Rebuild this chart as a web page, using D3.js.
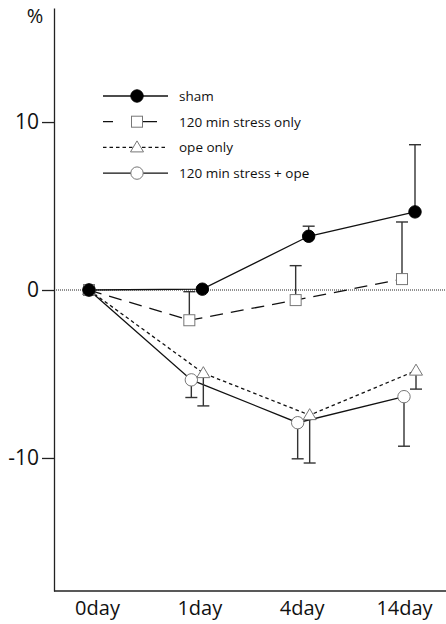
<!DOCTYPE html>
<html>
<head>
<meta charset="utf-8">
<script src="https://cdn.jsdelivr.net/npm/d3@7"></script>
<style>
  body { margin: 0; background: #fff; }
  svg { display: block; font-family: "Open Sans", sans-serif; }
</style>
</head>
<body>
<svg id="chart" width="446" height="624"></svg>
<script>
// Data
const days = ['0day', '1day', '4day', '14day'];

const shamMean = [0, 0.05, 3.2, 4.65];
const shamErr = [0, 0, 0.6, 4.0];

const stressMean = [0, -1.8, -0.6, 0.65];
const stressErr = [0, 1.7, 2.05, 3.4];

const opeMean = [0, -4.95, -7.45, -4.8];
const opeErr = [0, 1.95, 2.85, 1.1];

const bothMean = [0, -5.35, -7.9, -6.35];
const bothErr = [0, 1.05, 2.15, 2.95];

const yTicks = [-10, 0, 10];

// series config (dodge = small horizontal shift so marks don't overlap)
const series = [
    { name: '120 min stress + ope', mean: bothMean, err: bothErr, dir: -1, marker: 'circle', fill: '#fff', dash: null, dodge: -4 },
    { name: 'ope only', mean: opeMean, err: opeErr, dir: -1, marker: 'triangle', fill: '#fff', dash: '3.5,3', dodge: 8 },
    { name: '120 min stress only', mean: stressMean, err: stressErr, dir: 1, marker: 'square', fill: '#fff', dash: '13,8', dodge: -6 },
    { name: 'sham', mean: shamMean, err: shamErr, dir: 1, marker: 'circle', fill: '#000', dash: null, dodge: 7 }
];
const legendOrder = ['sham', '120 min stress only', 'ope only', '120 min stress + ope'];

const svg = d3.select('#chart');

const x = d3.scalePoint().domain(days).range([89, 408]);
const xLabel = d3.scalePoint().domain(days).range([97, 404]);
const y = d3.scaleLinear().domain([-17.92, 16.79]).range([591, 8]);

const px = (s, i) => x(days[i]) + (i === 0 ? 0 : s.dodge);

// zero reference line
svg.append('line')
    .attr('x1', 54).attr('x2', 446)
    .attr('y1', y(0)).attr('y2', y(0))
    .attr('stroke', '#222').attr('stroke-width', 1)
    .attr('stroke-dasharray', '1,1');

// y axis
const yAxis = svg.append('g')
    .attr('transform', 'translate(54,0)')
    .call(d3.axisLeft(y).tickValues(yTicks).tickFormat(d => String(d))
        .tickSize(12).tickSizeOuter(0).tickPadding(3));
yAxis.select('.domain').attr('stroke', '#222').attr('stroke-width', 1.3);
yAxis.selectAll('.tick line').attr('stroke', '#222').attr('stroke-width', 1.3);
yAxis.selectAll('.tick text').attr('font-size', 21).attr('fill', '#111')
    .attr('font-family', '"Open Sans", sans-serif');

svg.append('text')
    .attr('x', 35).attr('y', 23)
    .attr('text-anchor', 'middle')
    .attr('font-size', 20).attr('fill', '#111')
    .text('%');

// x axis
svg.append('line')
    .attr('x1', 54).attr('x2', 446)
    .attr('y1', 591).attr('y2', 591)
    .attr('stroke', '#222').attr('stroke-width', 1.3);
const xAxis = svg.append('g')
    .attr('transform', 'translate(0,591)')
    .call(d3.axisBottom(xLabel).tickSize(0).tickPadding(10));
xAxis.select('.domain').remove();
xAxis.selectAll('.tick text').attr('font-size', 20).attr('fill', '#111')
    .attr('font-family', '"Open Sans", sans-serif');

function drawMarker(g, s, cx, cy) {
    if (s.marker === 'circle') {
        g.append('circle').attr('cx', cx).attr('cy', cy).attr('r', 6.2)
            .attr('fill', s.fill).attr('stroke', s.fill === '#000' ? '#000' : '#777').attr('stroke-width', 1);
    } else if (s.marker === 'square') {
        g.append('rect').attr('x', cx - 5.5).attr('y', cy - 5.5).attr('width', 11).attr('height', 11)
            .attr('fill', '#fff').attr('stroke', '#777').attr('stroke-width', 1);
    } else {
        g.append('path')
            .attr('d', `M${cx},${cy - 6.5}L${cx + 6.5},${cy + 4.5}L${cx - 6.5},${cy + 4.5}Z`)
            .attr('fill', '#fff').attr('stroke', '#777').attr('stroke-width', 1);
    }
}

// lines
const line = d3.line();
series.forEach(s => {
    svg.append('path')
        .attr('d', line(s.mean.map((v, i) => [px(s, i), y(v)])))
        .attr('fill', 'none')
        .attr('stroke', '#111')
        .attr('stroke-width', 1.3)
        .attr('stroke-dasharray', s.dash);
});

// error bars
series.forEach(s => {
    s.err.forEach((e, i) => {
        if (!e) return;
        const cx = px(s, i);
        const y0 = y(s.mean[i]);
        const y1 = y(s.mean[i] + s.dir * e);
        const g = svg.append('g').attr('stroke', '#333').attr('stroke-width', 1.4);
        g.append('line').attr('x1', cx).attr('x2', cx).attr('y1', y0).attr('y2', y1);
        g.append('line').attr('x1', cx - 6).attr('x2', cx + 6).attr('y1', y1).attr('y2', y1);
    });
});

// markers
series.forEach(s => {
    const g = svg.append('g');
    s.mean.forEach((v, i) => drawMarker(g, s, px(s, i), y(v)));
});

// legend
const legend = svg.append('g');
legendOrder.forEach((name, k) => {
    const s = series.find(d => d.name === name);
    const ly = 96 + k * 25.7;
    const isStress = s.marker === 'square';
    legend.append('line')
        .attr('x1', 103).attr('x2', isStress ? 157 : 168).attr('y1', ly).attr('y2', ly)
        .attr('stroke', '#111').attr('stroke-width', 1.3)
        .attr('stroke-dasharray', isStress ? '10,28,16' : s.dash);
    drawMarker(legend, s, 137, ly);
    legend.append('text')
        .attr('x', 179).attr('y', ly + 5)
        .attr('font-size', 13.5).attr('fill', '#111')
        .text(name);
});
</script>
</body>
</html>
